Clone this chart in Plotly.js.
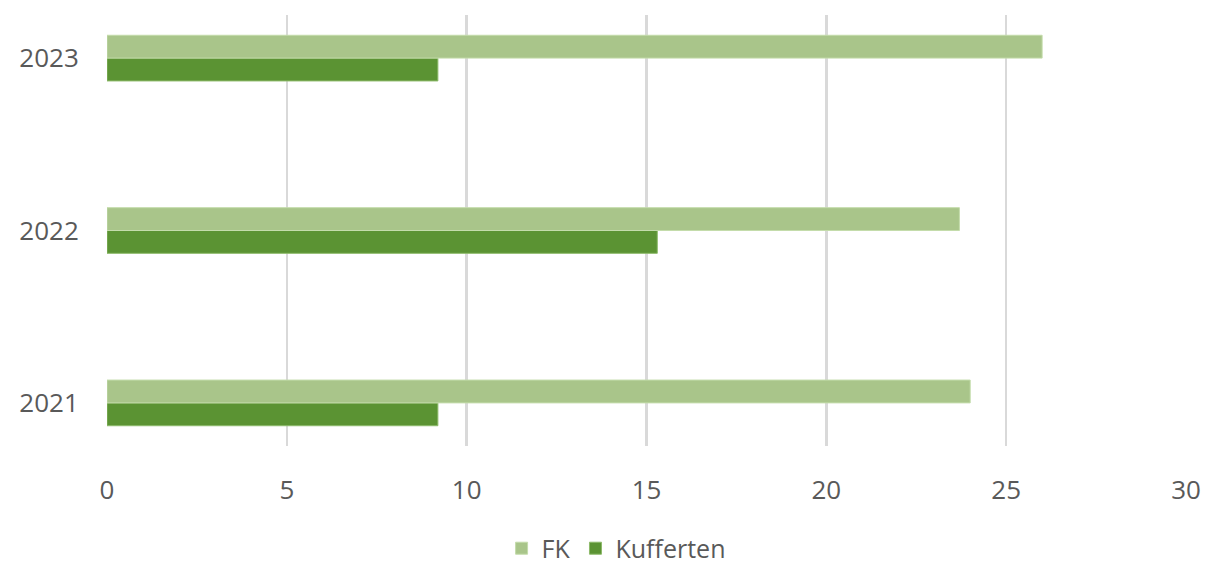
<!DOCTYPE html>
<html>
<head>
<meta charset="utf-8">
<script src="https://cdn.plot.ly/plotly-3.0.1.min.js"></script>
<style>html,body{margin:0;padding:0;background:#fff;}#chart{width:1208px;height:566px;}</style>
</head>
<body>
<div id="chart"></div>
<script>
const years = ['2021', '2022', '2023'];
const fkValues = [24.0, 23.7, 26.0];
const kuffertenValues = [9.2, 15.3, 9.2];
const xTicks = [0, 5, 10, 15, 20, 25, 30];

const traces = [
  {
    type: 'bar', orientation: 'h', name: 'Kufferten',
    y: years, x: kuffertenValues,
    marker: {color: '#5B9333', line: {color: '#8DBA6A', width: 1}},
    hoverinfo: 'x+name'
  },
  {
    type: 'bar', orientation: 'h', name: 'FK',
    y: years, x: fkValues,
    marker: {color: '#A9C58A', line: {color: '#C4DCAB', width: 1}},
    hoverinfo: 'x+name'
  }
];

const font = {family: '"Open Sans", "Noto Sans", sans-serif', size: 26, color: '#595959'};

const layout = {
  width: 1208, height: 566,
  margin: {l: 107, r: 22, t: 15, b: 120},
  paper_bgcolor: '#ffffff', plot_bgcolor: '#ffffff',
  font: font,
  barmode: 'group',
  bargap: 0.735,
  bargroupgap: 0,
  showlegend: true,
  legend: {
    orientation: 'h', traceorder: 'reversed',
    xref: 'container', yref: 'container',
    x: 0.51, xanchor: 'center', y: 0.031, yanchor: 'middle',
    font: {family: font.family, size: 25, color: '#595959'},
    itemwidth: 30
  },
  xaxis: {
    range: [0, 30], tickvals: xTicks, ticktext: xTicks.map(String),
    showgrid: true, gridcolor: '#D9D9D9', gridwidth: 2.5,
    zeroline: false, showline: false,
    ticks: 'outside', ticklen: 21, tickcolor: 'rgba(0,0,0,0)',
    tickfont: font, fixedrange: true
  },
  yaxis: {
    type: 'category', categoryorder: 'array', categoryarray: years,
    range: [-0.25, 2.25],
    showgrid: false, zeroline: false, showline: false,
    ticks: 'outside', ticklen: 22, tickcolor: 'rgba(0,0,0,0)',
    tickfont: font, fixedrange: true
  }
};

Plotly.newPlot('chart', traces, layout, {displayModeBar: false, staticPlot: true});
</script>
</body>
</html>
